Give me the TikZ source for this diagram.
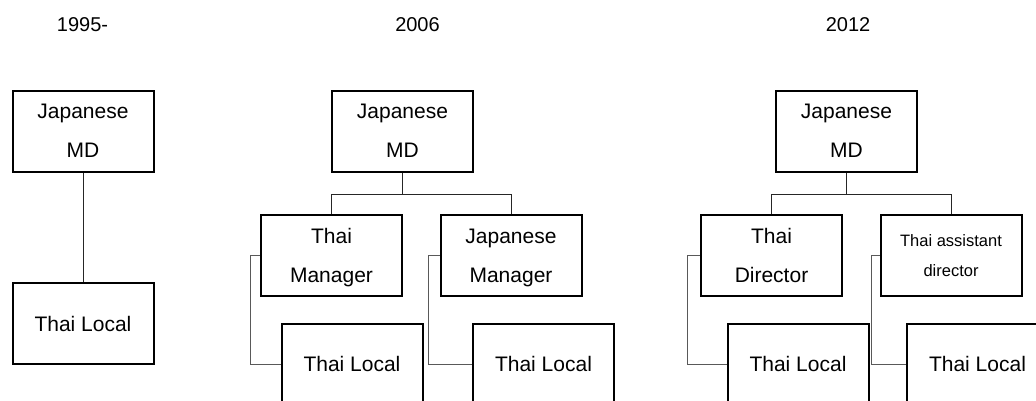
\documentclass[tikz,border=0pt]{standalone}
\usepackage{fontspec}
\setmainfont{Liberation Sans}

\begin{document}
\begin{tikzpicture}[x=1pt,y=-1pt,
    post/.style={draw,line width=2pt,minimum width=141pt,minimum height=81pt,inner sep=0pt,align=center,font=\fontsize{21}{39}\selectfont},
    two/.style={text depth=0pt},
    small/.style={font=\fontsize{16.5}{30}\selectfont},
    year/.style={anchor=base,font=\fontsize{20}{24}\selectfont},
    link/.style={draw,line width=1pt,black!85},
    sub/.style={draw,line width=1pt,black!65}]
    \clip (0,0) rectangle (1036,400);
    % years
    \node[year] (y1) at (82.5,31.5) {1995-};
    \node[year] (y2) at (417.5,31.5) {2006};
    \node[year] (y3) at (848,31.5) {2012};
    % 1995-
    \node[post,two] (md1) at (83,131) {Japanese\\MD};
    \node[post] (loc1) at (83,323.5) {Thai Local};
    \draw[link] (md1) -- (loc1);
    % 2006
    \node[post,two] (md2) at (402.5,131) {Japanese\\MD};
    \node[post,two] (mgrA) at (331.5,255.5) {Thai\\Manager};
    \node[post,two] (mgrB) at (511,255.5) {Japanese\\Manager};
    \node[post] (locA) at (352,364) {Thai Local};
    \node[post] (locB) at (543.5,364) {Thai Local};
    \draw[link] (md2.south) -- ++(0,22) coordinate (j2);
    \draw[link] (mgrA.north) |- (j2) -| (mgrB.north);
    \draw[sub] (mgrA.west) -- ++(-10,0) |- (locA.west);
    \draw[sub] (mgrB.west) -- ++(-11,0) |- (locB.west);
    % 2012
    \node[post,two] (md3) at (846.5,131) {Japanese\\MD};
    \node[post,two] (dir) at (771.5,255.5) {Thai\\Director};
    \node[post,two,small] (asst) at (951,255.5) {Thai assistant\\director};
    \node[post] (locC) at (798,364) {Thai Local};
    \node[post] (locD) at (977.5,364) {Thai Local};
    \draw[link] (md3.south) -- ++(0,22) coordinate (j3);
    \draw[link] (dir.north) |- (j3) -| (asst.north);
    \draw[sub] (dir.west) -- ++(-13,0) |- (locC.west);
    \draw[sub] (asst.west) -- ++(-8,0) |- (locD.west);
\end{tikzpicture}
\end{document}
